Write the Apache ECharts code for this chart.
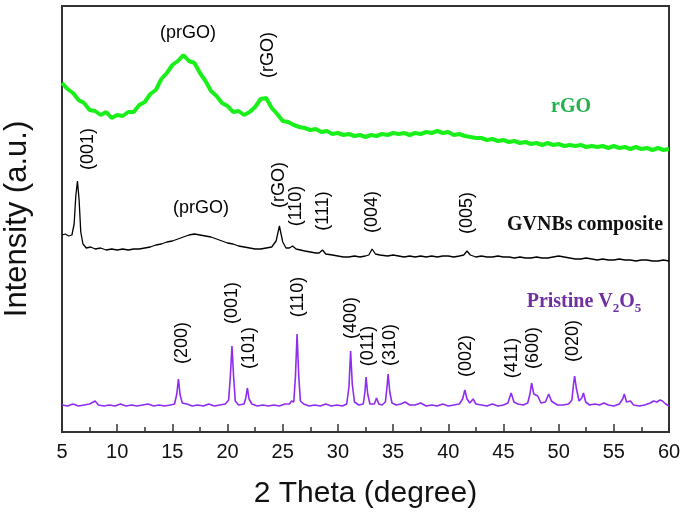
<!DOCTYPE html>
<html>
<head>
<meta charset="utf-8">
<script src="https://cdn.jsdelivr.net/npm/echarts@6/dist/echarts.min.js"></script>
<style>html,body{margin:0;padding:0;background:#fff}#c{width:686px;height:513px}</style>
</head>
<body>
<div id="c"></div>
<script>
// ---- data (intensity in arbitrary units, offset traces) ----
const xTicks = [5,10,15,20,25,30,35,40,45,50,55,60];

const rgoTheta = [5,5.5,6,6.5,7,7.5,8,8.5,9,9.5,10,10.5,11,11.5,12,12.5,13,13.5,14,14.5,15,15.5,16,16.5,17,17.5,18,18.5,19,19.5,20,20.5,21,21.5,22,22.5,23,23.5,24,24.5,25,25.5,26,26.5,27,27.5,28,28.5,29,29.5,30,30.5,31,31.5,32,32.5,33,33.5,34,34.5,35,35.5,36,36.5,37,37.5,38,38.5,39,39.5,40,40.5,41,41.5,42,42.5,43,43.5,44,44.5,45,45.5,46,46.5,47,47.5,48,48.5,49,49.5,50,50.5,51,51.5,52,52.5,53,53.5,54,54.5,55,55.5,56,56.5,57,57.5,58,58.5,59,59.5,60];
const rgoIntensity = [349,343,339,332,329,322,321,317,320,314,317,316,320,320,327,330,338,342,353,359,367,371,377,371,369,359,351,341,336,329,326,320,321,317,320,325,333,334,324,318,311,310,307,305,304,302,303,300,301,298,299,297,298,296,297,295,297,296,298,297,299,298,299,297,299,298,300,299,301,299,300,297,298,296,295,294,294,292,293,291,292,290,291,289,290,288,289,287,289,287,288,286,287,286,287,285,286,285,286,284,286,284,285,283,285,283,284,282,284,282,283];

const gvnTheta = [5,5.3,5.6,5.9,6.1,6.25,6.4,6.55,6.7,6.9,7.2,7.6,8,8.5,9,9.5,10,10.5,11,11.5,12,12.5,13,13.5,14,14.5,15,15.5,16,16.5,17,17.5,18,18.5,19,19.5,20,20.5,21,21.5,22,22.5,23,23.5,24,24.4,24.7,25,25.3,25.6,25.9,26.2,26.6,27,27.5,28,28.3,28.6,28.9,29.5,30,30.5,31,31.5,32,32.5,32.8,33.1,33.4,33.8,34.5,35,35.5,36,36.5,37,37.5,38,38.5,39,39.5,40,40.5,41,41.4,41.7,42,42.5,43,43.5,44,44.5,45,45.5,46,46.5,47,47.5,48,48.5,49,49.5,50,50.5,51,51.5,52,52.5,53,53.5,54,54.5,55,55.5,56,56.5,57,57.5,58,58.5,59,59.5,60];
const gvnIntensity = [197,198,196,197,208,236,251,232,200,188,184,185,183,184,182,183,182,183,182,183,183,184,185,187,188,190,191,193,195,197,198,197,196,195,193,191,189,188,186,185,184,183,183,184,185,191,206,190,184,184,186,183,182,181,180,179,179,182,178,177,176,175,175,176,175,176,177,183,178,177,176,177,176,175,176,175,176,175,176,175,176,176,175,176,177,181,177,175,176,175,175,176,175,175,174,175,174,174,175,174,174,175,176,175,174,173,173,174,173,172,173,172,172,173,172,172,171,172,172,171,171,172,171];

const v2o5Theta = [5,5.5,6,6.5,7,7.5,8,8.3,8.8,9.3,9.8,10.3,10.8,11.3,11.8,12.3,12.8,13.3,13.8,14.3,14.8,15.2,15.4,15.55,15.7,15.9,16.3,16.8,17.3,17.8,18.3,18.8,19.3,19.8,20.1,20.25,20.4,20.55,20.7,21,21.5,21.65,21.8,21.95,22.2,22.7,23.2,23.7,24.2,24.7,25.2,25.6,25.8,26,26.15,26.3,26.45,26.6,26.9,27.4,27.9,28.4,28.9,29.4,29.9,30.4,30.8,31,31.15,31.3,31.5,31.9,32.3,32.45,32.55,32.7,32.9,33.3,33.5,33.7,34,34.3,34.45,34.55,34.7,34.9,35.3,35.7,36.1,36.5,37,37.5,38,38.5,39,39.5,40,40.5,41,41.3,41.5,41.7,41.95,42.25,42.5,43,43.5,44,44.5,45,45.4,45.7,45.95,46.3,46.8,47.2,47.4,47.55,47.75,48.1,48.4,48.8,49.1,49.35,49.6,49.9,50.4,50.9,51.2,51.35,51.45,51.6,51.85,52.1,52.25,52.45,52.8,53.3,53.7,54.1,54.5,55,55.5,55.8,55.95,56.15,56.5,56.8,57.3,57.8,58.3,58.6,58.9,59.2,59.4,59.7,60];
const v2o5Intensity = [27,26,28,26,27,28,31,27,26,27,26,28,26,27,26,27,28,26,27,26,27,28,38,53,37,29,28,26,27,26,28,26,27,28,32,55,86,55,31,27,28,34,44,33,28,26,27,26,27,26,28,28,31,30,55,98,56,31,28,26,27,26,28,26,27,26,28,45,81,48,30,27,28,40,55,38,28,28,34,28,27,30,45,58,40,29,27,28,30,27,27,29,26,27,26,28,26,27,28,33,42,33,29,33,28,27,26,28,26,27,29,39,30,28,27,29,38,49,38,36,29,30,38,31,29,27,27,28,32,48,56,44,31,34,39,30,27,28,27,29,27,26,28,33,38,30,31,27,26,27,29,31,30,32,31,28,26];

const rgoPeakLabels = ['(prGO)', '(rGO)'];
const gvnPeakLabels = ['(001)', '(prGO)', '(rGO)', '(110)', '(111)', '(004)', '(005)'];
const v2o5PeakLabels = ['(200)', '(001)', '(101)', '(110)', '(400)', '(011)', '(310)', '(002)', '(411)', '(600)', '(020)'];

function pairs(xs, ys) { return xs.map((x, i) => [x, ys[i]]); }

// ---- layout of annotations (pixel positions) ----
const SANS = "'Liberation Sans', Arial, sans-serif";
const SERIF = "'Liberation Serif', 'Times New Roman', serif";
function lbl(text, x, y, vertical) {
  return {
    type: 'text', x: x, y: y, rotation: vertical ? Math.PI / 2 : 0,
    style: { text: text, fill: '#000', font: '18px ' + SANS, align: 'center', verticalAlign: 'middle' },
    z: 100
  };
}
const rgoPos = [[188, 33, false], [268, 55, true]];
const gvnPos = [[88, 149, true], [201, 208, false], [279, 185, true], [296, 206, true], [323, 211, true], [372, 212, true], [467, 213, true]];
const v2o5Pos = [[182, 343, true], [232, 303, true], [249, 348, true], [298, 297, true], [351, 318, true], [368, 346, true], [390, 345, true], [466, 356, true], [512, 358, true], [533, 348, true], [573, 341, true]];

const graphics = [];
rgoPeakLabels.forEach((t, i) => graphics.push(lbl(t, rgoPos[i][0], rgoPos[i][1], rgoPos[i][2])));
gvnPeakLabels.forEach((t, i) => graphics.push(lbl(t, gvnPos[i][0], gvnPos[i][1], gvnPos[i][2])));
v2o5PeakLabels.forEach((t, i) => graphics.push(lbl(t, v2o5Pos[i][0], v2o5Pos[i][1], v2o5Pos[i][2])));

graphics.push({ type: 'text', x: 571, y: 107, z: 100,
  style: { text: 'rGO', fill: '#22b14c', font: 'bold 20px ' + SERIF, align: 'center', verticalAlign: 'middle' } });
graphics.push({ type: 'text', x: 585, y: 225, z: 100,
  style: { text: 'GVNBs composite', fill: '#111', font: 'bold 20px ' + SERIF, align: 'center', verticalAlign: 'middle' } });
graphics.push({ type: 'text', x: 584, y: 302, z: 100,
  style: {
    text: '{b|Pristine V}{s|2}{b|O}{s|5}', align: 'center', verticalAlign: 'middle',
    rich: {
      b: { fill: '#7030a0', fontFamily: SERIF, fontWeight: 'bold', fontSize: 20, lineHeight: 26, verticalAlign: 'middle' },
      s: { fill: '#7030a0', fontFamily: SERIF, fontWeight: 'bold', fontSize: 13, lineHeight: 26, verticalAlign: 'bottom', padding: [0, 0, 0, 0] }
    }
  } });

const chart = echarts.init(document.getElementById('c'));
chart.setOption({
  animation: false,
  backgroundColor: '#fff',
  grid: { left: 62, right: 17, top: 6, bottom: 81, show: true, borderColor: '#333', borderWidth: 2,
    backgroundColor: 'transparent', containLabel: false, outerBoundsMode: 'none' },
  xAxis: {
    type: 'value', min: 5, max: 60, interval: 5,
    name: '2 Theta (degree)', nameLocation: 'middle', nameGap: 47,
    nameTextStyle: { fontFamily: SANS, fontSize: 30, color: '#111' },
    axisLine: { show: true, onZero: false, lineStyle: { color: '#333', width: 2 } },
    axisTick: { show: true, inside: true, length: 8, lineStyle: { color: '#333', width: 1.5 } },
    minorTick: { show: true, splitNumber: 2, length: 5, lineStyle: { color: '#333', width: 1.5 } },
    axisLabel: { fontFamily: SANS, fontSize: 20, color: '#111', margin: 10,
      formatter: v => (xTicks.indexOf(v) >= 0 ? String(v) : '') },
    splitLine: { show: false }
  },
  yAxis: {
    type: 'value', min: 0, max: 426,
    name: 'Intensity (a.u.)', nameLocation: 'middle', nameGap: 29, nameRotate: 90,
    nameTextStyle: { fontFamily: SANS, fontSize: 31, color: '#111' },
    axisLine: { show: true, lineStyle: { color: '#333', width: 2 } },
    axisTick: { show: false }, axisLabel: { show: false }, splitLine: { show: false }
  },
  series: [
    { name: 'rGO', type: 'line', data: pairs(rgoTheta, rgoIntensity), symbol: 'none',
      lineStyle: { color: '#19f019', width: 4 }, z: 3 },
    { name: 'GVNBs composite', type: 'line', data: pairs(gvnTheta, gvnIntensity), symbol: 'none',
      lineStyle: { color: '#000', width: 1.3 }, z: 3 },
    { name: 'Pristine V2O5', type: 'line', data: pairs(v2o5Theta, v2o5Intensity), symbol: 'none',
      lineStyle: { color: '#8f2cf0', width: 1.6 }, z: 3 }
  ],
  graphic: graphics
});
</script>
</body>
</html>
